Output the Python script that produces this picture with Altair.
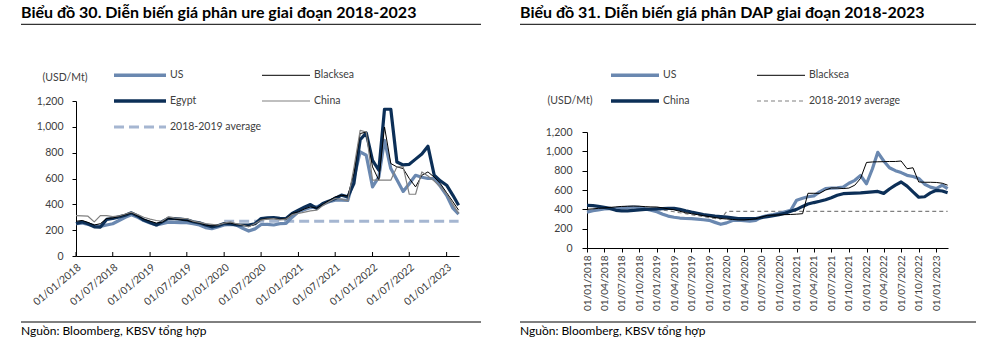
import altair as alt
import pandas as pd

# ---------------- data ----------------
months = pd.date_range("2018-01-01", periods=63, freq="MS")

# Chart 30 - urea (USD/Mt)
ure_us = [250, 255, 245, 235, 228, 240, 250, 275, 300, 320, 300, 275, 255, 240, 250, 262,
          260, 258, 258, 250, 240, 220, 212, 225, 240, 245, 240, 215, 193, 210, 244, 245,
          240, 250, 252, 300, 342, 360, 375, 380, 400, 420, 432, 432, 430, 600, 806, 780,
          535, 612, 896, 677, 590, 500, 560, 625, 610, 600, 600, 540, 470, 370, 325]
ure_egypt = [251, 264, 250, 226, 224, 283, 290, 303, 315, 334, 310, 278, 260, 240, 265, 291,
             290, 286, 280, 265, 257, 240, 226, 235, 251, 248, 240, 240, 240, 250, 290, 295,
             298, 292, 290, 330, 355, 380, 398, 368, 406, 425, 445, 471, 458, 560, 900, 953,
             741, 664, 1136, 1136, 728, 705, 710, 750, 790, 850, 625, 582, 548, 470, 393]
ure_blacksea = [269, 275, 260, 240, 250, 290, 295, 305, 320, 334, 310, 285, 270, 255, 262, 290,
                285, 280, 275, 265, 255, 240, 232, 240, 255, 255, 245, 240, 230, 245, 283, 290,
                290, 285, 290, 330, 342, 365, 380, 370, 400, 430, 458, 470, 465, 638, 948, 960,
                690, 587, 999, 716, 690, 677, 600, 535, 625, 651, 610, 561, 490, 420, 355]
ure_china = [313, 310, 308, 264, 313, 313, 305, 310, 325, 339, 320, 300, 285, 275, 269, 303,
             295, 291, 290, 270, 260, 250, 245, 240, 255, 264, 250, 240, 226, 250, 278, 285,
             290, 280, 285, 320, 329, 340, 350, 355, 390, 420, 445, 440, 427, 680, 973, 960,
             587, 587, 587, 587, 690, 690, 478, 478, 651, 620, 580, 535, 480, 400, 330]
ure_avg_dates = ["2020-01-01", "2023-03-01"]
ure_avg = [270, 270]

# Chart 31 - DAP (USD/Mt)
dap_us = [370, 385, 395, 405, 408, 410, 415, 420, 424, 420, 405, 392, 375, 350, 330, 318,
          310, 305, 303, 298, 292, 286, 265, 245, 260, 285, 288, 282, 278, 285, 320, 335,
          345, 360, 375, 390, 495, 515, 530, 540, 580, 614, 620, 622, 630, 670, 700, 750,
          665, 820, 990, 900, 830, 800, 780, 752, 740, 720, 660, 630, 614, 650, 615]
dap_china = [440, 438, 430, 420, 410, 390, 385, 385, 390, 395, 400, 402, 405, 408, 410, 410,
             400, 385, 372, 360, 345, 338, 330, 325, 320, 312, 305, 303, 303, 305, 315, 325,
             335, 345, 360, 380, 400, 430, 455, 470, 483, 500, 520, 545, 562, 565, 568, 570,
             575, 580, 585, 565, 610, 650, 683, 640, 580, 525, 530, 570, 597, 590, 572]
dap_blacksea = [400, 405, 410, 415, 420, 425, 430, 432, 434, 432, 428, 425, 424, 415, 405, 395,
                380, 365, 355, 345, 335, 325, 315, 305, 300, 295, 290, 290, 295, 303, 320, 338,
                340, 342, 345, 347, 350, 355, 566, 566, 566, 600, 621, 621, 615, 620, 650, 720,
                885, 890, 892, 893, 895, 895, 900, 820, 830, 683, 680, 680, 678, 670, 650]
dap_avg = [385, 390, 395, 400, 405, 410, 412, 415, 415, 412, 410, 405, 400, 392, 385, 375,
           365, 355, 345, 335, 325, 315, 305, 298, 378, 378, 378, 378, 378, 378, 378, 378,
           378, 378, 378, 378, 378, 378, 378, 378, 378, 378, 378, 378, 378, 378, 378, 378,
           378, 378, 378, 378, 378, 378, 378, 378, 378, 378, 378, 378, 378, 378, 378]

y_ticks = [0, 200, 400, 600, 800, 1000, 1200]
ure_x_ticks = ["2018-01-01", "2018-07-01", "2019-01-01", "2019-07-01", "2020-01-01", "2020-07-01",
               "2021-01-01", "2021-07-01", "2022-01-01", "2022-07-01", "2023-01-01"]
dap_x_ticks = [f"{y}-{m:02d}-01" for y in range(2018, 2023) for m in (1, 4, 7, 10)] + ["2023-01-01"]

FONT = "Lato"
NAVY = "#0c2f57"
STEEL = "#6a88b0"
LIGHT = "#a5b6d1"
GREY = "#808080"
LBL = "#404040"

x_domain = [pd.Timestamp("2018-01-01").isoformat(), pd.Timestamp("2023-03-03").isoformat()]


def frame(series):
    rows = []
    for name, vals in series.items():
        for d, v in zip(months, vals):
            rows.append({"date": d, "series": name, "value": v})
    return pd.DataFrame(rows)


ure_df = frame({"US": ure_us, "Egypt": ure_egypt, "Blacksea": ure_blacksea, "China": ure_china})
ure_avg_df = pd.DataFrame({"date": pd.to_datetime(ure_avg_dates), "value": ure_avg})
dap_df = frame({"US": dap_us, "China": dap_china, "Blacksea": dap_blacksea, "avg": dap_avg})
ure_tick_df = pd.DataFrame({"date": pd.to_datetime(ure_x_ticks)})

ONE = pd.DataFrame({"a": [0]})


def legend_item(x0, x1, y, label, color, width, dash=None):
    kw = dict(color=color, strokeWidth=width, strokeCap="butt")
    if dash:
        kw["strokeDash"] = dash
    r = alt.Chart(ONE).mark_rule(**kw).encode(
        x=alt.value(x0), x2=alt.value(x1), y=alt.value(y), y2=alt.value(y))
    t = alt.Chart(ONE).mark_text(
        text=label, font=FONT, fontSize=10.5, color=LBL, align="left", baseline="middle").encode(
        x=alt.value(x1 + 4), y=alt.value(y))
    return [r, t]


def text(x, y, s, size, bold=False, align="left", color="#000000"):
    return alt.Chart(ONE).mark_text(
        text=s, font=FONT, fontSize=size, fontWeight="bold" if bold else "normal",
        color=color, align=align, baseline="middle").encode(x=alt.value(x), y=alt.value(y))


def hrule(x0, x1, y, color="#000000", w=1):
    return alt.Chart(ONE).mark_rule(color=color, strokeWidth=w).encode(
        x=alt.value(x0), x2=alt.value(x1), y=alt.value(y), y2=alt.value(y))


def series_line(df, name, color, width, X, Y, dash=None):
    kw = dict(color=color, strokeWidth=width, strokeJoin="round", strokeCap="butt")
    if dash:
        kw["strokeDash"] = dash
    return alt.Chart(df).transform_filter(alt.datum.series == name).mark_line(**kw).encode(x=X, y=Y)


# ---------------- left panel ----------------
LW, LH = 383, 155
lx_axis = alt.Axis(values=[pd.Timestamp(t).isoformat() for t in ure_x_ticks],
                   format="%d/%m/%Y", labelAngle=-40, title=None, grid=False,
                   domainColor="#000000", ticks=False, labelOverlap=False,
                   labelFont=FONT, labelFontSize=10.5, labelColor=LBL, labelPadding=6)
ly_axis = alt.Axis(values=y_ticks, format=",d", title=None, grid=False,
                   domainColor="#000000", tickColor="#000000", tickSize=4,
                   labelFont=FONT, labelFontSize=10.5, labelColor=LBL, labelPadding=9)
LX = alt.X("date:T", scale=alt.Scale(domain=x_domain), axis=lx_axis)
LY = alt.Y("value:Q", scale=alt.Scale(domain=[0, 1200]), axis=ly_axis)

left_ticks = alt.Chart(ure_tick_df).mark_rule(color="#000000", strokeWidth=1).encode(
    x=LX, y=alt.value(LH - 4), y2=alt.value(LH))
left_avg = alt.Chart(ure_avg_df).mark_line(color=LIGHT, strokeWidth=3, strokeDash=[10, 5]).encode(
    x=LX, y=LY)
left_layers = [left_avg,
               series_line(ure_df, "US", STEEL, 3.2, LX, LY),
               series_line(ure_df, "Egypt", NAVY, 3.2, LX, LY),
               series_line(ure_df, "Blacksea", "#000000", 1, LX, LY),
               series_line(ure_df, "China", GREY, 1.2, LX, LY),
               left_ticks]
left_layers += legend_item(38, 90, -25.7, "US", STEEL, 3.5)
left_layers += legend_item(186, 234, -25.7, "Blacksea", "#000000", 1)
left_layers += legend_item(38, 90, 0, "Egypt", NAVY, 3.5)
left_layers += legend_item(186, 234, 0, "China", GREY, 1.2)
left_layers += legend_item(38, 90, 26, "2018-2019 average", LIGHT, 3, dash=[10, 5])
left_layers += [text(-11, -23.5, "(USD/Mt)", 10.5, align="center", color=LBL),
                text(-55, -88.2, "Biểu đồ 30. Diễn biến giá phân ure giai đoạn 2018-2023", 16, bold=True),
                hrule(-55, 405, -76.7),
                hrule(-55, 405, 221),
                text(-55, 229.5, "Nguồn: Bloomberg, KBSV tổng hợp", 12)]
left = alt.layer(*left_layers).properties(width=LW, height=LH)

# ---------------- right panel ----------------
RW, RH = 361, 147
rx_axis = alt.Axis(values=[pd.Timestamp(t).isoformat() for t in dap_x_ticks],
                   format="%d/%m/%Y", labelAngle=-90, title=None, grid=False,
                   domainColor="#000000", tickColor="#000000", tickSize=4, labelOverlap=False,
                   labelFont=FONT, labelFontSize=10, labelColor=LBL, labelPadding=3)
ry_axis = alt.Axis(values=y_ticks, format=",d", title=None, grid=False,
                   domainColor="#000000", tickColor="#000000", tickSize=5,
                   labelFont=FONT, labelFontSize=10.5, labelColor=LBL, labelPadding=10)
RX = alt.X("date:T", scale=alt.Scale(domain=x_domain), axis=rx_axis)
RY = alt.Y("value:Q", scale=alt.Scale(domain=[0, 1200], range=[RH, 31]), axis=ry_axis)

right_layers = [series_line(dap_df, "avg", GREY, 1.2, RX, RY, dash=[4, 3]),
                series_line(dap_df, "US", STEEL, 3.2, RX, RY),
                series_line(dap_df, "China", NAVY, 3.2, RX, RY),
                series_line(dap_df, "Blacksea", "#000000", 1, RX, RY)]
right_layers += legend_item(24, 72, -25.7, "US", STEEL, 3.5)
right_layers += legend_item(170, 218, -25.7, "Blacksea", "#000000", 1)
right_layers += legend_item(24, 72, 0, "China", NAVY, 3.5)
right_layers += legend_item(170, 218, 0, "2018-2019 average", GREY, 1.2, dash=[4, 3])
right_layers += [text(-17, 0, "(USD/Mt)", 10.5, align="center", color=LBL),
                 text(-67, -88.2, "Biểu đồ 31. Diễn biến giá phân DAP giai đoạn 2018-2023", 16, bold=True),
                 hrule(-67, 389, -76.7),
                 hrule(-67, 389, 221),
                 text(-67, 229.5, "Nguồn: Bloomberg, KBSV tổng hợp", 12)]
right = alt.layer(*right_layers).properties(width=RW, height=RH)

chart = alt.hconcat(left, right, spacing=37).properties(
    padding={"left": 20, "top": 4, "right": 0, "bottom": 0}
).configure_view(stroke=None)

chart.save("out.html", embed_options={"renderer": "svg", "actions": False})
